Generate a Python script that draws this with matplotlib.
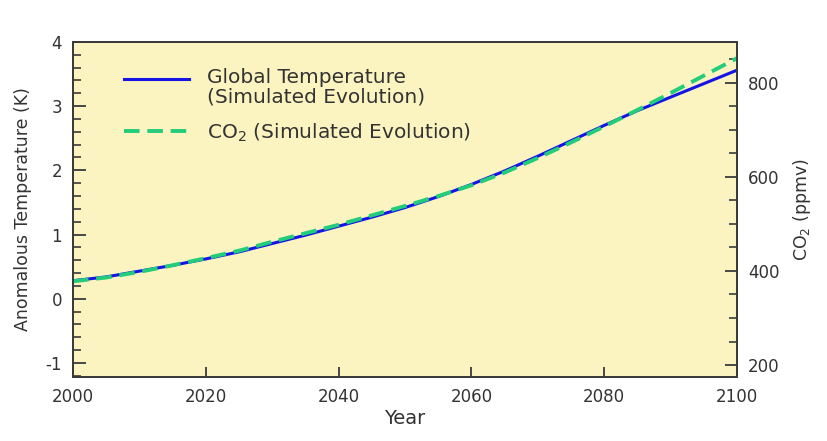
import numpy as np
import matplotlib.pyplot as plt
from matplotlib.ticker import MultipleLocator
from matplotlib.legend_handler import HandlerLine2D

# values (every 5 years)
years = [2000, 2005, 2010, 2015, 2020, 2025, 2030, 2035, 2040, 2045, 2050,
         2055, 2060, 2065, 2070, 2075, 2080, 2085, 2090, 2095, 2100]
temperature = [0.28, 0.34, 0.43, 0.52, 0.62, 0.73, 0.86, 0.99, 1.13, 1.27, 1.42,
               1.59, 1.78, 1.99, 2.22, 2.46, 2.70, 2.93, 3.14, 3.35, 3.56]
co2 = [378, 386, 398, 412, 427, 443, 462, 480, 498, 518, 538,
       559, 582, 609, 640, 673, 707, 742, 778, 815, 852]

bg = '#FCF4C0'
txt = '#333333'

plt.rcParams['font.family'] = ['DejaVu Sans']
plt.rcParams['axes.unicode_minus'] = False


class TopLine(HandlerLine2D):
    # put the key line next to the first text line instead of the middle
    def __init__(self, shift=0, **kw):
        super().__init__(**kw)
        self.shift = shift

    def create_artists(self, legend, orig_handle, xdescent, ydescent,
                       width, height, fontsize, trans):
        arts = super().create_artists(legend, orig_handle, xdescent, ydescent,
                                      width, height, fontsize, trans)
        for a in arts:
            a.set_ydata(np.asarray(a.get_ydata()) + self.shift)
        return arts


fig = plt.figure(figsize=(8.28, 4.41), dpi=100)
ax = fig.add_axes([0.0882, 0.145, 0.802, 0.760])
ax.set_facecolor(bg)
ax2 = ax.twinx()

l1, = ax.plot(years, temperature, color='#1414E6', lw=2.2, zorder=3,
              label='Global Temperature\n(Simulated Evolution)')
l2, = ax2.plot(years, co2, color='#22CC7A', lw=2.8, ls=(0, (4, 2)),
               label='CO$_2$ (Simulated Evolution)')

ax.set_xlim(2000, 2100)
ax.set_ylim(-1.22, 4.0)
ax2.set_ylim(174.5, 886.6)

ax.xaxis.set_major_locator(MultipleLocator(20))
ax.yaxis.set_major_locator(MultipleLocator(1))
ax.yaxis.set_minor_locator(MultipleLocator(0.2))
ax2.yaxis.set_major_locator(MultipleLocator(200))
ax2.yaxis.set_minor_locator(MultipleLocator(50))

for a in (ax, ax2):
    for s in a.spines.values():
        s.set_color('#3a3a3a')
        s.set_linewidth(1.3)

ax.tick_params(axis='x', direction='in', length=7.5, width=1.3, color='#3a3a3a',
               labelsize=12, labelcolor=txt, pad=8, top=False)
ax.tick_params(axis='y', which='major', direction='in', length=9.5, width=1.3,
               color='#3a3a3a', labelsize=12, labelcolor=txt, pad=8)
ax.tick_params(axis='y', which='minor', direction='in', length=5.5, width=1.2,
               color='#3a3a3a')
ax2.tick_params(axis='y', which='major', direction='in', length=9, width=1.3,
                color='#3a3a3a', labelsize=12, labelcolor=txt, pad=8)
ax2.tick_params(axis='y', which='minor', direction='in', length=5.5, width=1.2,
                color='#3a3a3a')

ax.set_xlabel('Year', fontsize=14, color=txt, labelpad=2)
ax.set_ylabel('Anomalous Temperature (K)', fontsize=12.5, color=txt, labelpad=10)
ax2.set_ylabel('CO$_2$ (ppmv)', fontsize=12.5, color=txt, labelpad=8)

leg = ax.legend(handles=[l1, l2], loc='upper left', bbox_to_anchor=(0.05, 0.975),
                frameon=False, fontsize=14.5, handlelength=3.2, handletextpad=0.9,
                labelspacing=0.75, labelcolor=txt,
                handler_map={l1: TopLine(shift=6.5)})
for t in leg.get_texts():
    t.set_linespacing(0.98)

fig.savefig('out.png', dpi=100)
